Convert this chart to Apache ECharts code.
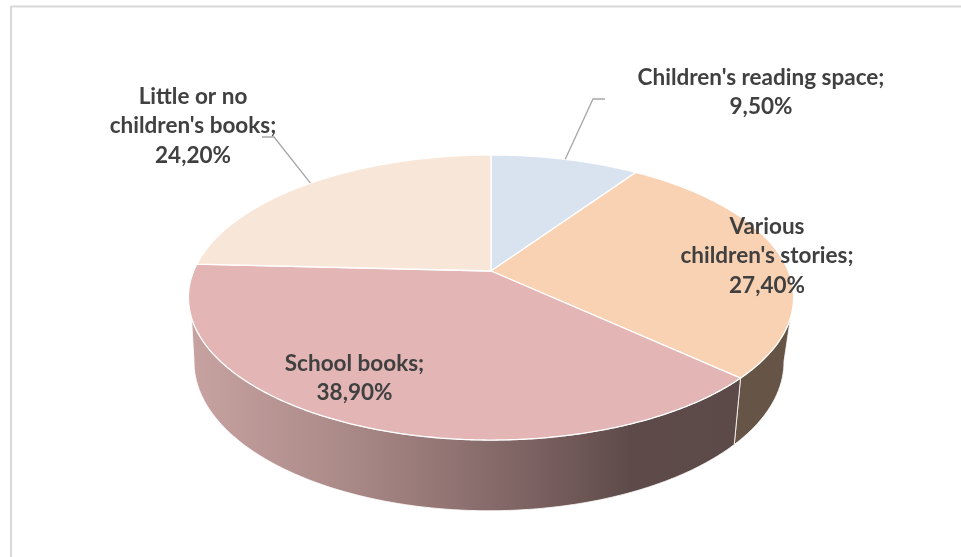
<!DOCTYPE html>
<html>
<head>
<meta charset="utf-8">
<style>html,body{margin:0;padding:0;background:#fff}#chart{width:961px;height:557px}</style>
<script src="https://cdn.jsdelivr.net/npm/echarts@6/dist/echarts.min.js"></script>
</head>
<body>
<div id="chart"></div>
<script>
// Shares of home reading material, clockwise from 12 o'clock
const categories = ["Children's reading space", "Various children's stories", "School books", "Little or no children's books"];
const shares = [9.5, 27.4, 38.9, 24.2];
const wrappedNames = ["Children's reading space;", "Various\nchildren's stories;", "School books;", "Little or no\nchildren's books;"];
const topColors = ["#d9e3f0", "#f9d2b3", "#e3b5b5", "#f8e7d9"];

// Text anchors (centre of the label block) and leader elbows, in page pixels
const labelCentres = [[761, 92], [767, 256], [354.5, 378], [193, 126]];
const leaderElbows = [[[593, 99], [605, 99]], null, null, [[274, 137], [262, 137]]];

// Perspective projection of the disc: upper and lower rim of the cylinder
const upperRim = { cx: 491, cy: 271, dx: 297.3, dy: 137.6, k: -0.186, visible: [108.7, 251.3] };
const lowerRim = { cx: 489, cy: 332, dx: 289, dy: 143, k: -0.2, visible: [101.5, 258.5] };

function project(rim, deg) {
  const a = deg * Math.PI / 180, X = Math.sin(a), Y = -Math.cos(a), w = 1 + rim.k * Y;
  return [rim.cx + rim.dx * X / w, rim.cy + rim.dy * Y / w];
}
function arc(rim, from, to) {
  const n = Math.max(2, Math.ceil(Math.abs(to - from))) * 2, pts = [];
  for (let i = 0; i <= n; i++) pts.push(project(rim, from + (to - from) * i / n));
  return pts;
}

const total = shares.reduce((a, b) => a + b, 0);
const spans = [];
shares.reduce((acc, v) => { spans.push([acc / total * 360, (acc + v) / total * 360]); return acc + v; }, 0);

const percentText = v => v.toFixed(2).replace('.', ',') + '%';

const sideFills = [
  null,
  '#665547',
  new echarts.graphic.LinearGradient(0, 0, 1, 0, [
    { offset: 0, color: '#c7a2a1' },
    { offset: 0.3, color: '#a88886' },
    { offset: 0.6, color: '#7f6464' },
    { offset: 0.8, color: '#5e4b49' },
    { offset: 1, color: '#5c4a48' }
  ]),
  null
];

const rows = categories.map((name, i) => ({ name, value: [shares[i]] }));

function clampToVisible(rim, s) {
  return [Math.max(s[0], rim.visible[0]), Math.min(s[1], rim.visible[1])];
}
function sideItem(params) {
  const i = params.dataIndex;
  if (!sideFills[i]) return { type: 'group', children: [] };
  const up = clampToVisible(upperRim, spans[i]), low = clampToVisible(lowerRim, spans[i]);
  const pts = arc(upperRim, up[0], up[1]).concat(arc(lowerRim, low[1], low[0]));
  return { type: 'polygon', shape: { points: pts }, style: { fill: sideFills[i], stroke: '#ffffff', lineWidth: 0.8 } };
}
function topItem(params) {
  const i = params.dataIndex, s = spans[i];
  const pts = [[upperRim.cx, upperRim.cy]].concat(arc(upperRim, s[0], s[1]));
  return { type: 'polygon', shape: { points: pts }, style: { fill: topColors[i], stroke: '#ffffff', lineWidth: 1.3 } };
}
function labelItem(params, api) {
  const i = params.dataIndex, s = spans[i], children = [];
  if (leaderElbows[i]) {
    const start = project(upperRim, (s[0] + s[1]) / 2);
    children.push({ type: 'polyline', shape: { points: [start].concat(leaderElbows[i]) },
      style: { fill: null, stroke: '#a6a6a6', lineWidth: 1.3 } });
  }
  children.push({ type: 'text', x: labelCentres[i][0], y: labelCentres[i][1],
    style: { text: wrappedNames[i] + '\n' + percentText(api.value(0)), align: 'center', verticalAlign: 'middle',
      font: 'bold 22.5px Lato, "Open Sans", sans-serif', lineHeight: 29.5, fill: '#404040' } });
  return { type: 'group', children };
}

const chart = echarts.init(document.getElementById('chart'), null, { renderer: 'canvas' });
chart.setOption({
  animation: false,
  backgroundColor: '#ffffff',
  graphic: [
    { type: 'line', shape: { x1: 11, y1: 6.5, x2: 961, y2: 6.5 }, style: { stroke: '#d9d9d9', lineWidth: 2 }, silent: true },
    { type: 'line', shape: { x1: 11, y1: 6, x2: 11, y2: 557 }, style: { stroke: '#d9d9d9', lineWidth: 2 }, silent: true }
  ],
  series: [
    { type: 'custom', coordinateSystem: 'none', z: 1, renderItem: sideItem, data: rows, silent: true },
    { type: 'custom', coordinateSystem: 'none', z: 2, renderItem: topItem, data: rows, silent: true },
    { type: 'custom', coordinateSystem: 'none', z: 3, renderItem: labelItem, data: rows, silent: true }
  ]
});
</script>
</body>
</html>
